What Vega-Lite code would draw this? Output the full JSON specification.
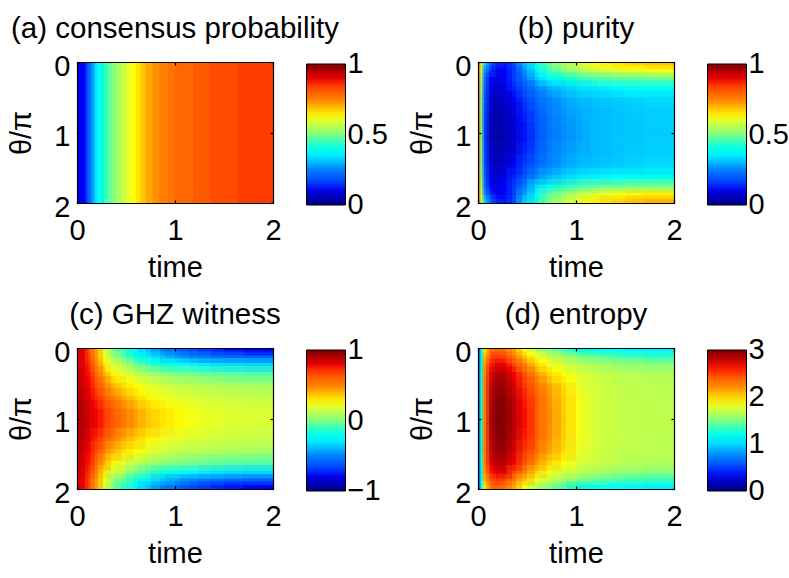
{"$schema":"https://vega.github.io/schema/vega-lite/v6.json","background":"white","padding":{"left":7,"top":13,"right":0,"bottom":0},
"datasets":{"frame":[{"t":0,"h":0}],
"tc":[{"t":0,"x0":0,"x1":0.013,"w0":0,"w1":0.027},{"t":0.02,"x0":0.013,"x1":0.04,"w0":0.027,"w1":0.06},{"t":0.05,"x0":0.04,"x1":0.083,"w0":0.06,"w1":0.117},{"t":0.1,"x0":0.083,"x1":0.14,"w0":0.117,"w1":0.18},{"t":0.16,"x0":0.14,"x1":0.213,"w0":0.18,"w1":0.267},{"t":0.24,"x0":0.213,"x1":0.293,"w0":0.267,"w1":0.347},{"t":0.32,"x0":0.293,"x1":0.387,"w0":0.347,"w1":0.453},{"t":0.42,"x0":0.387,"x1":0.5,"w0":0.453,"w1":0.58},{"t":0.54,"x0":0.5,"x1":0.62,"w0":0.58,"w1":0.7},{"t":0.66,"x0":0.62,"x1":0.753,"w0":0.7,"w1":0.847},{"t":0.8,"x0":0.753,"x1":0.9,"w0":0.847,"w1":1},{"t":0.95,"x0":0.9,"x1":1.05,"w0":1,"w1":1.15},{"t":1.1,"x0":1.05,"x1":1.233,"w0":1.15,"w1":1.367},{"t":1.3,"x0":1.233,"x1":1.5,"w0":1.367,"w1":1.7},{"t":1.6,"x0":1.5,"x1":2,"w0":1.7,"w1":2}],
"hc":[{"h":0,"y0":0,"y1":0.053,"z0":0,"z1":0.107},{"h":0.08,"y0":0.053,"y1":0.147,"z0":0.107,"z1":0.213},{"h":0.18,"y0":0.147,"y1":0.26,"z0":0.213,"z1":0.34},{"h":0.3,"y0":0.26,"y1":0.4,"z0":0.34,"z1":0.5},{"h":0.45,"y0":0.4,"y1":0.563,"z0":0.5,"z1":0.677},{"h":0.62,"y0":0.563,"y1":0.74,"z0":0.677,"z1":0.86},{"h":0.8,"y0":0.74,"y1":0.933,"z0":0.86,"z1":1.067},{"h":1,"y0":0.933,"y1":1.14,"z0":1.067,"z1":1.26},{"h":1.2,"y0":1.14,"y1":1.323,"z0":1.26,"z1":1.437},{"h":1.38,"y0":1.323,"y1":1.5,"z0":1.437,"z1":1.6},{"h":1.55,"y0":1.5,"y1":1.66,"z0":1.6,"z1":1.74},{"h":1.7,"y0":1.66,"y1":1.787,"z0":1.74,"z1":1.853},{"h":1.82,"y0":1.787,"y1":1.893,"z0":1.853,"z1":1.947},{"h":1.92,"y0":1.893,"y1":2,"z0":1.947,"z1":2}],
"a":[{"t":0,"t2":0.03,"h":0,"h2":2,"v":0.1},{"t":0.03,"t2":0.06,"h":0,"h2":2,"v":0.11},{"t":0.06,"t2":0.09,"h":0,"h2":2,"v":0.125},{"t":0.09,"t2":0.12,"h":0,"h2":2,"v":0.17},{"t":0.12,"t2":0.15,"h":0,"h2":2,"v":0.22},{"t":0.15,"t2":0.18,"h":0,"h2":2,"v":0.28},{"t":0.18,"t2":0.21,"h":0,"h2":2,"v":0.34},{"t":0.21,"t2":0.24,"h":0,"h2":2,"v":0.39},{"t":0.24,"t2":0.28,"h":0,"h2":2,"v":0.42},{"t":0.28,"t2":0.32,"h":0,"h2":2,"v":0.45},{"t":0.32,"t2":0.36,"h":0,"h2":2,"v":0.48},{"t":0.36,"t2":0.4,"h":0,"h2":2,"v":0.51},{"t":0.4,"t2":0.45,"h":0,"h2":2,"v":0.54},{"t":0.45,"t2":0.5,"h":0,"h2":2,"v":0.57},{"t":0.5,"t2":0.55,"h":0,"h2":2,"v":0.6},{"t":0.55,"t2":0.6,"h":0,"h2":2,"v":0.625},{"t":0.6,"t2":0.65,"h":0,"h2":2,"v":0.65},{"t":0.65,"t2":0.7,"h":0,"h2":2,"v":0.68},{"t":0.7,"t2":0.77,"h":0,"h2":2,"v":0.71},{"t":0.77,"t2":0.84,"h":0,"h2":2,"v":0.735},{"t":0.84,"t2":0.92,"h":0,"h2":2,"v":0.755},{"t":0.92,"t2":1,"h":0,"h2":2,"v":0.77},{"t":1,"t2":1.18,"h":0,"h2":2,"v":0.79},{"t":1.18,"t2":1.35,"h":0,"h2":2,"v":0.81},{"t":1.35,"t2":1.64,"h":0,"h2":2,"v":0.83},{"t":1.64,"t2":2,"h":0,"h2":2,"v":0.845}],
"b":[{"t":0,"h":0,"v":0.85},{"t":0.02,"h":0,"v":0.6},{"t":0.05,"h":0,"v":0.32},{"t":0.1,"h":0,"v":0.2},{"t":0.16,"h":0,"v":0.14},{"t":0.24,"h":0,"v":0.13},{"t":0.32,"h":0,"v":0.17},{"t":0.42,"h":0,"v":0.3},{"t":0.54,"h":0,"v":0.4},{"t":0.66,"h":0,"v":0.48},{"t":0.8,"h":0,"v":0.54},{"t":0.95,"h":0,"v":0.58},{"t":1.1,"h":0,"v":0.62},{"t":1.3,"h":0,"v":0.65},{"t":1.6,"h":0,"v":0.68},
{"t":0,"h":0.08,"v":0.85},{"t":0.02,"h":0.08,"v":0.58},{"t":0.05,"h":0.08,"v":0.26},{"t":0.1,"h":0.08,"v":0.15},{"t":0.16,"h":0.08,"v":0.11},{"t":0.24,"h":0.08,"v":0.12},{"t":0.32,"h":0.08,"v":0.16},{"t":0.42,"h":0.08,"v":0.26},{"t":0.54,"h":0.08,"v":0.36},{"t":0.66,"h":0.08,"v":0.45},{"t":0.8,"h":0.08,"v":0.5},{"t":0.95,"h":0.08,"v":0.54},{"t":1.1,"h":0.08,"v":0.57},{"t":1.3,"h":0.08,"v":0.6},{"t":1.6,"h":0.08,"v":0.62},
{"t":0,"h":0.18,"v":0.85},{"t":0.02,"h":0.18,"v":0.55},{"t":0.05,"h":0.18,"v":0.22},{"t":0.1,"h":0.18,"v":0.12},{"t":0.16,"h":0.18,"v":0.1},{"t":0.24,"h":0.18,"v":0.12},{"t":0.32,"h":0.18,"v":0.16},{"t":0.42,"h":0.18,"v":0.23},{"t":0.54,"h":0.18,"v":0.32},{"t":0.66,"h":0.18,"v":0.38},{"t":0.8,"h":0.18,"v":0.42},{"t":0.95,"h":0.18,"v":0.44},{"t":1.1,"h":0.18,"v":0.46},{"t":1.3,"h":0.18,"v":0.47},{"t":1.6,"h":0.18,"v":0.48},
{"t":0,"h":0.3,"v":0.85},{"t":0.02,"h":0.3,"v":0.52},{"t":0.05,"h":0.3,"v":0.2},{"t":0.1,"h":0.3,"v":0.1},{"t":0.16,"h":0.3,"v":0.08},{"t":0.24,"h":0.3,"v":0.1},{"t":0.32,"h":0.3,"v":0.14},{"t":0.42,"h":0.3,"v":0.19},{"t":0.54,"h":0.3,"v":0.25},{"t":0.66,"h":0.3,"v":0.29},{"t":0.8,"h":0.3,"v":0.32},{"t":0.95,"h":0.3,"v":0.34},{"t":1.1,"h":0.3,"v":0.35},{"t":1.3,"h":0.3,"v":0.37},{"t":1.6,"h":0.3,"v":0.39},
{"t":0,"h":0.45,"v":0.85},{"t":0.02,"h":0.45,"v":0.5},{"t":0.05,"h":0.45,"v":0.18},{"t":0.1,"h":0.45,"v":0.08},{"t":0.16,"h":0.45,"v":0.06},{"t":0.24,"h":0.45,"v":0.08},{"t":0.32,"h":0.45,"v":0.11},{"t":0.42,"h":0.45,"v":0.16},{"t":0.54,"h":0.45,"v":0.21},{"t":0.66,"h":0.45,"v":0.25},{"t":0.8,"h":0.45,"v":0.28},{"t":0.95,"h":0.45,"v":0.3},{"t":1.1,"h":0.45,"v":0.31},{"t":1.3,"h":0.45,"v":0.32},{"t":1.6,"h":0.45,"v":0.335},
{"t":0,"h":0.62,"v":0.85},{"t":0.02,"h":0.62,"v":0.5},{"t":0.05,"h":0.62,"v":0.17},{"t":0.1,"h":0.62,"v":0.07},{"t":0.16,"h":0.62,"v":0.05},{"t":0.24,"h":0.62,"v":0.06},{"t":0.32,"h":0.62,"v":0.09},{"t":0.42,"h":0.62,"v":0.14},{"t":0.54,"h":0.62,"v":0.19},{"t":0.66,"h":0.62,"v":0.24},{"t":0.8,"h":0.62,"v":0.27},{"t":0.95,"h":0.62,"v":0.29},{"t":1.1,"h":0.62,"v":0.3},{"t":1.3,"h":0.62,"v":0.31},{"t":1.6,"h":0.62,"v":0.325},
{"t":0,"h":0.8,"v":0.85},{"t":0.02,"h":0.8,"v":0.5},{"t":0.05,"h":0.8,"v":0.16},{"t":0.1,"h":0.8,"v":0.06},{"t":0.16,"h":0.8,"v":0.04},{"t":0.24,"h":0.8,"v":0.05},{"t":0.32,"h":0.8,"v":0.08},{"t":0.42,"h":0.8,"v":0.13},{"t":0.54,"h":0.8,"v":0.18},{"t":0.66,"h":0.8,"v":0.23},{"t":0.8,"h":0.8,"v":0.26},{"t":0.95,"h":0.8,"v":0.28},{"t":1.1,"h":0.8,"v":0.3},{"t":1.3,"h":0.8,"v":0.31},{"t":1.6,"h":0.8,"v":0.32},
{"t":0,"h":1,"v":0.85},{"t":0.02,"h":1,"v":0.5},{"t":0.05,"h":1,"v":0.16},{"t":0.1,"h":1,"v":0.06},{"t":0.16,"h":1,"v":0.04},{"t":0.24,"h":1,"v":0.05},{"t":0.32,"h":1,"v":0.08},{"t":0.42,"h":1,"v":0.13},{"t":0.54,"h":1,"v":0.18},{"t":0.66,"h":1,"v":0.23},{"t":0.8,"h":1,"v":0.26},{"t":0.95,"h":1,"v":0.28},{"t":1.1,"h":1,"v":0.3},{"t":1.3,"h":1,"v":0.31},{"t":1.6,"h":1,"v":0.32},
{"t":0,"h":1.2,"v":0.85},{"t":0.02,"h":1.2,"v":0.5},{"t":0.05,"h":1.2,"v":0.17},{"t":0.1,"h":1.2,"v":0.07},{"t":0.16,"h":1.2,"v":0.05},{"t":0.24,"h":1.2,"v":0.06},{"t":0.32,"h":1.2,"v":0.09},{"t":0.42,"h":1.2,"v":0.14},{"t":0.54,"h":1.2,"v":0.19},{"t":0.66,"h":1.2,"v":0.24},{"t":0.8,"h":1.2,"v":0.27},{"t":0.95,"h":1.2,"v":0.29},{"t":1.1,"h":1.2,"v":0.3},{"t":1.3,"h":1.2,"v":0.31},{"t":1.6,"h":1.2,"v":0.325},
{"t":0,"h":1.38,"v":0.85},{"t":0.02,"h":1.38,"v":0.5},{"t":0.05,"h":1.38,"v":0.18},{"t":0.1,"h":1.38,"v":0.08},{"t":0.16,"h":1.38,"v":0.06},{"t":0.24,"h":1.38,"v":0.08},{"t":0.32,"h":1.38,"v":0.11},{"t":0.42,"h":1.38,"v":0.16},{"t":0.54,"h":1.38,"v":0.21},{"t":0.66,"h":1.38,"v":0.25},{"t":0.8,"h":1.38,"v":0.28},{"t":0.95,"h":1.38,"v":0.3},{"t":1.1,"h":1.38,"v":0.31},{"t":1.3,"h":1.38,"v":0.32},{"t":1.6,"h":1.38,"v":0.335},
{"t":0,"h":1.55,"v":0.85},{"t":0.02,"h":1.55,"v":0.52},{"t":0.05,"h":1.55,"v":0.2},{"t":0.1,"h":1.55,"v":0.1},{"t":0.16,"h":1.55,"v":0.08},{"t":0.24,"h":1.55,"v":0.1},{"t":0.32,"h":1.55,"v":0.14},{"t":0.42,"h":1.55,"v":0.19},{"t":0.54,"h":1.55,"v":0.26},{"t":0.66,"h":1.55,"v":0.3},{"t":0.8,"h":1.55,"v":0.33},{"t":0.95,"h":1.55,"v":0.35},{"t":1.1,"h":1.55,"v":0.36},{"t":1.3,"h":1.55,"v":0.38},{"t":1.6,"h":1.55,"v":0.4},
{"t":0,"h":1.7,"v":0.85},{"t":0.02,"h":1.7,"v":0.55},{"t":0.05,"h":1.7,"v":0.22},{"t":0.1,"h":1.7,"v":0.12},{"t":0.16,"h":1.7,"v":0.1},{"t":0.24,"h":1.7,"v":0.12},{"t":0.32,"h":1.7,"v":0.16},{"t":0.42,"h":1.7,"v":0.24},{"t":0.54,"h":1.7,"v":0.34},{"t":0.66,"h":1.7,"v":0.4},{"t":0.8,"h":1.7,"v":0.44},{"t":0.95,"h":1.7,"v":0.46},{"t":1.1,"h":1.7,"v":0.48},{"t":1.3,"h":1.7,"v":0.49},{"t":1.6,"h":1.7,"v":0.5},
{"t":0,"h":1.82,"v":0.85},{"t":0.02,"h":1.82,"v":0.58},{"t":0.05,"h":1.82,"v":0.26},{"t":0.1,"h":1.82,"v":0.15},{"t":0.16,"h":1.82,"v":0.11},{"t":0.24,"h":1.82,"v":0.12},{"t":0.32,"h":1.82,"v":0.16},{"t":0.42,"h":1.82,"v":0.28},{"t":0.54,"h":1.82,"v":0.38},{"t":0.66,"h":1.82,"v":0.47},{"t":0.8,"h":1.82,"v":0.52},{"t":0.95,"h":1.82,"v":0.56},{"t":1.1,"h":1.82,"v":0.59},{"t":1.3,"h":1.82,"v":0.62},{"t":1.6,"h":1.82,"v":0.64},
{"t":0,"h":1.92,"v":0.85},{"t":0.02,"h":1.92,"v":0.6},{"t":0.05,"h":1.92,"v":0.32},{"t":0.1,"h":1.92,"v":0.2},{"t":0.16,"h":1.92,"v":0.14},{"t":0.24,"h":1.92,"v":0.13},{"t":0.32,"h":1.92,"v":0.17},{"t":0.42,"h":1.92,"v":0.32},{"t":0.54,"h":1.92,"v":0.42},{"t":0.66,"h":1.92,"v":0.5},{"t":0.8,"h":1.92,"v":0.56},{"t":0.95,"h":1.92,"v":0.6},{"t":1.1,"h":1.92,"v":0.64},{"t":1.3,"h":1.92,"v":0.67},{"t":1.6,"h":1.92,"v":0.7}],
"c":[{"t":0,"h":0,"v":0.82},{"t":0.02,"h":0,"v":0.82},{"t":0.05,"h":0,"v":0.78},{"t":0.1,"h":0,"v":0.65},{"t":0.16,"h":0,"v":0.45},{"t":0.24,"h":0,"v":0.2},{"t":0.32,"h":0,"v":0},{"t":0.42,"h":0,"v":-0.12},{"t":0.54,"h":0,"v":-0.27},{"t":0.66,"h":0,"v":-0.38},{"t":0.8,"h":0,"v":-0.5},{"t":0.95,"h":0,"v":-0.58},{"t":1.1,"h":0,"v":-0.65},{"t":1.3,"h":0,"v":-0.72},{"t":1.6,"h":0,"v":-0.76},
{"t":0,"h":0.08,"v":0.82},{"t":0.02,"h":0.08,"v":0.82},{"t":0.05,"h":0.08,"v":0.78},{"t":0.1,"h":0.08,"v":0.66},{"t":0.16,"h":0.08,"v":0.46},{"t":0.24,"h":0.08,"v":0.24},{"t":0.32,"h":0.08,"v":0.05},{"t":0.42,"h":0.08,"v":-0.05},{"t":0.54,"h":0.08,"v":-0.18},{"t":0.66,"h":0.08,"v":-0.28},{"t":0.8,"h":0.08,"v":-0.38},{"t":0.95,"h":0.08,"v":-0.45},{"t":1.1,"h":0.08,"v":-0.5},{"t":1.3,"h":0.08,"v":-0.56},{"t":1.6,"h":0.08,"v":-0.6},
{"t":0,"h":0.18,"v":0.84},{"t":0.02,"h":0.18,"v":0.84},{"t":0.05,"h":0.18,"v":0.8},{"t":0.1,"h":0.18,"v":0.7},{"t":0.16,"h":0.18,"v":0.5},{"t":0.24,"h":0.18,"v":0.3},{"t":0.32,"h":0.18,"v":0.18},{"t":0.42,"h":0.18,"v":0.1},{"t":0.54,"h":0.18,"v":-0.03},{"t":0.66,"h":0.18,"v":-0.1},{"t":0.8,"h":0.18,"v":-0.17},{"t":0.95,"h":0.18,"v":-0.23},{"t":1.1,"h":0.18,"v":-0.27},{"t":1.3,"h":0.18,"v":-0.32},{"t":1.6,"h":0.18,"v":-0.34},
{"t":0,"h":0.3,"v":0.86},{"t":0.02,"h":0.3,"v":0.85},{"t":0.05,"h":0.3,"v":0.82},{"t":0.1,"h":0.3,"v":0.74},{"t":0.16,"h":0.3,"v":0.58},{"t":0.24,"h":0.3,"v":0.42},{"t":0.32,"h":0.3,"v":0.27},{"t":0.42,"h":0.3,"v":0.2},{"t":0.54,"h":0.3,"v":0.13},{"t":0.66,"h":0.3,"v":0.08},{"t":0.8,"h":0.3,"v":0.03},{"t":0.95,"h":0.3,"v":0},{"t":1.1,"h":0.3,"v":-0.02},{"t":1.3,"h":0.3,"v":-0.05},{"t":1.6,"h":0.3,"v":-0.07},
{"t":0,"h":0.45,"v":0.88},{"t":0.02,"h":0.45,"v":0.87},{"t":0.05,"h":0.45,"v":0.84},{"t":0.1,"h":0.45,"v":0.76},{"t":0.16,"h":0.45,"v":0.65},{"t":0.24,"h":0.45,"v":0.52},{"t":0.32,"h":0.45,"v":0.4},{"t":0.42,"h":0.45,"v":0.31},{"t":0.54,"h":0.45,"v":0.25},{"t":0.66,"h":0.45,"v":0.2},{"t":0.8,"h":0.45,"v":0.16},{"t":0.95,"h":0.45,"v":0.13},{"t":1.1,"h":0.45,"v":0.12},{"t":1.3,"h":0.45,"v":0.1},{"t":1.6,"h":0.45,"v":0.08},
{"t":0,"h":0.62,"v":0.9},{"t":0.02,"h":0.62,"v":0.89},{"t":0.05,"h":0.62,"v":0.86},{"t":0.1,"h":0.62,"v":0.8},{"t":0.16,"h":0.62,"v":0.72},{"t":0.24,"h":0.62,"v":0.62},{"t":0.32,"h":0.62,"v":0.52},{"t":0.42,"h":0.62,"v":0.42},{"t":0.54,"h":0.62,"v":0.34},{"t":0.66,"h":0.62,"v":0.27},{"t":0.8,"h":0.62,"v":0.22},{"t":0.95,"h":0.62,"v":0.2},{"t":1.1,"h":0.62,"v":0.18},{"t":1.3,"h":0.62,"v":0.16},{"t":1.6,"h":0.62,"v":0.14},
{"t":0,"h":0.8,"v":0.92},{"t":0.02,"h":0.8,"v":0.91},{"t":0.05,"h":0.8,"v":0.88},{"t":0.1,"h":0.8,"v":0.84},{"t":0.16,"h":0.8,"v":0.77},{"t":0.24,"h":0.8,"v":0.7},{"t":0.32,"h":0.8,"v":0.62},{"t":0.42,"h":0.8,"v":0.53},{"t":0.54,"h":0.8,"v":0.44},{"t":0.66,"h":0.8,"v":0.36},{"t":0.8,"h":0.8,"v":0.3},{"t":0.95,"h":0.8,"v":0.26},{"t":1.1,"h":0.8,"v":0.23},{"t":1.3,"h":0.8,"v":0.2},{"t":1.6,"h":0.8,"v":0.18},
{"t":0,"h":1,"v":0.92},{"t":0.02,"h":1,"v":0.91},{"t":0.05,"h":1,"v":0.88},{"t":0.1,"h":1,"v":0.84},{"t":0.16,"h":1,"v":0.77},{"t":0.24,"h":1,"v":0.7},{"t":0.32,"h":1,"v":0.62},{"t":0.42,"h":1,"v":0.53},{"t":0.54,"h":1,"v":0.44},{"t":0.66,"h":1,"v":0.36},{"t":0.8,"h":1,"v":0.3},{"t":0.95,"h":1,"v":0.26},{"t":1.1,"h":1,"v":0.23},{"t":1.3,"h":1,"v":0.2},{"t":1.6,"h":1,"v":0.18},
{"t":0,"h":1.2,"v":0.9},{"t":0.02,"h":1.2,"v":0.89},{"t":0.05,"h":1.2,"v":0.86},{"t":0.1,"h":1.2,"v":0.8},{"t":0.16,"h":1.2,"v":0.72},{"t":0.24,"h":1.2,"v":0.62},{"t":0.32,"h":1.2,"v":0.52},{"t":0.42,"h":1.2,"v":0.42},{"t":0.54,"h":1.2,"v":0.34},{"t":0.66,"h":1.2,"v":0.27},{"t":0.8,"h":1.2,"v":0.22},{"t":0.95,"h":1.2,"v":0.2},{"t":1.1,"h":1.2,"v":0.18},{"t":1.3,"h":1.2,"v":0.16},{"t":1.6,"h":1.2,"v":0.14},
{"t":0,"h":1.38,"v":0.88},{"t":0.02,"h":1.38,"v":0.87},{"t":0.05,"h":1.38,"v":0.84},{"t":0.1,"h":1.38,"v":0.76},{"t":0.16,"h":1.38,"v":0.65},{"t":0.24,"h":1.38,"v":0.52},{"t":0.32,"h":1.38,"v":0.4},{"t":0.42,"h":1.38,"v":0.31},{"t":0.54,"h":1.38,"v":0.25},{"t":0.66,"h":1.38,"v":0.2},{"t":0.8,"h":1.38,"v":0.16},{"t":0.95,"h":1.38,"v":0.13},{"t":1.1,"h":1.38,"v":0.12},{"t":1.3,"h":1.38,"v":0.1},{"t":1.6,"h":1.38,"v":0.08},
{"t":0,"h":1.55,"v":0.86},{"t":0.02,"h":1.55,"v":0.85},{"t":0.05,"h":1.55,"v":0.82},{"t":0.1,"h":1.55,"v":0.74},{"t":0.16,"h":1.55,"v":0.58},{"t":0.24,"h":1.55,"v":0.42},{"t":0.32,"h":1.55,"v":0.27},{"t":0.42,"h":1.55,"v":0.2},{"t":0.54,"h":1.55,"v":0.13},{"t":0.66,"h":1.55,"v":0.08},{"t":0.8,"h":1.55,"v":0.03},{"t":0.95,"h":1.55,"v":0},{"t":1.1,"h":1.55,"v":-0.02},{"t":1.3,"h":1.55,"v":-0.05},{"t":1.6,"h":1.55,"v":-0.07},
{"t":0,"h":1.7,"v":0.84},{"t":0.02,"h":1.7,"v":0.84},{"t":0.05,"h":1.7,"v":0.8},{"t":0.1,"h":1.7,"v":0.7},{"t":0.16,"h":1.7,"v":0.5},{"t":0.24,"h":1.7,"v":0.3},{"t":0.32,"h":1.7,"v":0.18},{"t":0.42,"h":1.7,"v":0.1},{"t":0.54,"h":1.7,"v":-0.03},{"t":0.66,"h":1.7,"v":-0.1},{"t":0.8,"h":1.7,"v":-0.17},{"t":0.95,"h":1.7,"v":-0.23},{"t":1.1,"h":1.7,"v":-0.27},{"t":1.3,"h":1.7,"v":-0.32},{"t":1.6,"h":1.7,"v":-0.34},
{"t":0,"h":1.82,"v":0.82},{"t":0.02,"h":1.82,"v":0.82},{"t":0.05,"h":1.82,"v":0.78},{"t":0.1,"h":1.82,"v":0.66},{"t":0.16,"h":1.82,"v":0.46},{"t":0.24,"h":1.82,"v":0.24},{"t":0.32,"h":1.82,"v":0.05},{"t":0.42,"h":1.82,"v":-0.05},{"t":0.54,"h":1.82,"v":-0.18},{"t":0.66,"h":1.82,"v":-0.28},{"t":0.8,"h":1.82,"v":-0.38},{"t":0.95,"h":1.82,"v":-0.45},{"t":1.1,"h":1.82,"v":-0.5},{"t":1.3,"h":1.82,"v":-0.56},{"t":1.6,"h":1.82,"v":-0.6},
{"t":0,"h":1.92,"v":0.82},{"t":0.02,"h":1.92,"v":0.82},{"t":0.05,"h":1.92,"v":0.78},{"t":0.1,"h":1.92,"v":0.65},{"t":0.16,"h":1.92,"v":0.45},{"t":0.24,"h":1.92,"v":0.2},{"t":0.32,"h":1.92,"v":0},{"t":0.42,"h":1.92,"v":-0.12},{"t":0.54,"h":1.92,"v":-0.27},{"t":0.66,"h":1.92,"v":-0.38},{"t":0.8,"h":1.92,"v":-0.5},{"t":0.95,"h":1.92,"v":-0.58},{"t":1.1,"h":1.92,"v":-0.65},{"t":1.3,"h":1.92,"v":-0.72},{"t":1.6,"h":1.92,"v":-0.76}],
"d":[{"t":0,"h":0,"v":0.4},{"t":0.02,"h":0,"v":1.15},{"t":0.05,"h":0,"v":1.95},{"t":0.1,"h":0,"v":2.3},{"t":0.16,"h":0,"v":2.4},{"t":0.24,"h":0,"v":2.35},{"t":0.32,"h":0,"v":2.15},{"t":0.42,"h":0,"v":1.85},{"t":0.54,"h":0,"v":1.65},{"t":0.66,"h":0,"v":1.5},{"t":0.8,"h":0,"v":1.38},{"t":0.95,"h":0,"v":1.28},{"t":1.1,"h":0,"v":1.2},{"t":1.3,"h":0,"v":1.14},{"t":1.6,"h":0,"v":1.08},
{"t":0,"h":0.08,"v":0.4},{"t":0.02,"h":0.08,"v":1.2},{"t":0.05,"h":0.08,"v":2.1},{"t":0.1,"h":0.08,"v":2.45},{"t":0.16,"h":0.08,"v":2.55},{"t":0.24,"h":0.08,"v":2.5},{"t":0.32,"h":0.08,"v":2.3},{"t":0.42,"h":0.08,"v":2.05},{"t":0.54,"h":0.08,"v":1.85},{"t":0.66,"h":0.08,"v":1.72},{"t":0.8,"h":0.08,"v":1.6},{"t":0.95,"h":0.08,"v":1.5},{"t":1.1,"h":0.08,"v":1.45},{"t":1.3,"h":0.08,"v":1.38},{"t":1.6,"h":0.08,"v":1.33},
{"t":0,"h":0.18,"v":0.4},{"t":0.02,"h":0.18,"v":1.25},{"t":0.05,"h":0.18,"v":2.2},{"t":0.1,"h":0.18,"v":2.6},{"t":0.16,"h":0.18,"v":2.72},{"t":0.24,"h":0.18,"v":2.68},{"t":0.32,"h":0.18,"v":2.5},{"t":0.42,"h":0.18,"v":2.25},{"t":0.54,"h":0.18,"v":2},{"t":0.66,"h":0.18,"v":1.85},{"t":0.8,"h":0.18,"v":1.75},{"t":0.95,"h":0.18,"v":1.68},{"t":1.1,"h":0.18,"v":1.62},{"t":1.3,"h":0.18,"v":1.57},{"t":1.6,"h":0.18,"v":1.53},
{"t":0,"h":0.3,"v":0.4},{"t":0.02,"h":0.3,"v":1.3},{"t":0.05,"h":0.3,"v":2.25},{"t":0.1,"h":0.3,"v":2.7},{"t":0.16,"h":0.3,"v":2.85},{"t":0.24,"h":0.3,"v":2.82},{"t":0.32,"h":0.3,"v":2.65},{"t":0.42,"h":0.3,"v":2.45},{"t":0.54,"h":0.3,"v":2.2},{"t":0.66,"h":0.3,"v":2},{"t":0.8,"h":0.3,"v":1.87},{"t":0.95,"h":0.3,"v":1.78},{"t":1.1,"h":0.3,"v":1.73},{"t":1.3,"h":0.3,"v":1.68},{"t":1.6,"h":0.3,"v":1.65},
{"t":0,"h":0.45,"v":0.4},{"t":0.02,"h":0.45,"v":1.3},{"t":0.05,"h":0.45,"v":2.3},{"t":0.1,"h":0.45,"v":2.78},{"t":0.16,"h":0.45,"v":2.93},{"t":0.24,"h":0.45,"v":2.9},{"t":0.32,"h":0.45,"v":2.75},{"t":0.42,"h":0.45,"v":2.55},{"t":0.54,"h":0.45,"v":2.35},{"t":0.66,"h":0.45,"v":2.15},{"t":0.8,"h":0.45,"v":1.98},{"t":0.95,"h":0.45,"v":1.82},{"t":1.1,"h":0.45,"v":1.75},{"t":1.3,"h":0.45,"v":1.7},{"t":1.6,"h":0.45,"v":1.68},
{"t":0,"h":0.62,"v":0.4},{"t":0.02,"h":0.62,"v":1.3},{"t":0.05,"h":0.62,"v":2.3},{"t":0.1,"h":0.62,"v":2.82},{"t":0.16,"h":0.62,"v":2.98},{"t":0.24,"h":0.62,"v":2.95},{"t":0.32,"h":0.62,"v":2.8},{"t":0.42,"h":0.62,"v":2.6},{"t":0.54,"h":0.62,"v":2.4},{"t":0.66,"h":0.62,"v":2.2},{"t":0.8,"h":0.62,"v":2.02},{"t":0.95,"h":0.62,"v":1.85},{"t":1.1,"h":0.62,"v":1.76},{"t":1.3,"h":0.62,"v":1.71},{"t":1.6,"h":0.62,"v":1.68},
{"t":0,"h":0.8,"v":0.4},{"t":0.02,"h":0.8,"v":1.3},{"t":0.05,"h":0.8,"v":2.3},{"t":0.1,"h":0.8,"v":2.85},{"t":0.16,"h":0.8,"v":3},{"t":0.24,"h":0.8,"v":2.97},{"t":0.32,"h":0.8,"v":2.83},{"t":0.42,"h":0.8,"v":2.62},{"t":0.54,"h":0.8,"v":2.42},{"t":0.66,"h":0.8,"v":2.22},{"t":0.8,"h":0.8,"v":2.03},{"t":0.95,"h":0.8,"v":1.86},{"t":1.1,"h":0.8,"v":1.76},{"t":1.3,"h":0.8,"v":1.71},{"t":1.6,"h":0.8,"v":1.69},
{"t":0,"h":1,"v":0.4},{"t":0.02,"h":1,"v":1.3},{"t":0.05,"h":1,"v":2.3},{"t":0.1,"h":1,"v":2.85},{"t":0.16,"h":1,"v":3},{"t":0.24,"h":1,"v":2.97},{"t":0.32,"h":1,"v":2.83},{"t":0.42,"h":1,"v":2.62},{"t":0.54,"h":1,"v":2.42},{"t":0.66,"h":1,"v":2.22},{"t":0.8,"h":1,"v":2.03},{"t":0.95,"h":1,"v":1.86},{"t":1.1,"h":1,"v":1.76},{"t":1.3,"h":1,"v":1.71},{"t":1.6,"h":1,"v":1.69},
{"t":0,"h":1.2,"v":0.4},{"t":0.02,"h":1.2,"v":1.3},{"t":0.05,"h":1.2,"v":2.3},{"t":0.1,"h":1.2,"v":2.82},{"t":0.16,"h":1.2,"v":2.98},{"t":0.24,"h":1.2,"v":2.95},{"t":0.32,"h":1.2,"v":2.8},{"t":0.42,"h":1.2,"v":2.6},{"t":0.54,"h":1.2,"v":2.4},{"t":0.66,"h":1.2,"v":2.2},{"t":0.8,"h":1.2,"v":2.02},{"t":0.95,"h":1.2,"v":1.85},{"t":1.1,"h":1.2,"v":1.76},{"t":1.3,"h":1.2,"v":1.71},{"t":1.6,"h":1.2,"v":1.68},
{"t":0,"h":1.38,"v":0.4},{"t":0.02,"h":1.38,"v":1.3},{"t":0.05,"h":1.38,"v":2.3},{"t":0.1,"h":1.38,"v":2.78},{"t":0.16,"h":1.38,"v":2.93},{"t":0.24,"h":1.38,"v":2.9},{"t":0.32,"h":1.38,"v":2.75},{"t":0.42,"h":1.38,"v":2.55},{"t":0.54,"h":1.38,"v":2.35},{"t":0.66,"h":1.38,"v":2.15},{"t":0.8,"h":1.38,"v":1.98},{"t":0.95,"h":1.38,"v":1.82},{"t":1.1,"h":1.38,"v":1.75},{"t":1.3,"h":1.38,"v":1.7},{"t":1.6,"h":1.38,"v":1.68},
{"t":0,"h":1.55,"v":0.4},{"t":0.02,"h":1.55,"v":1.3},{"t":0.05,"h":1.55,"v":2.25},{"t":0.1,"h":1.55,"v":2.7},{"t":0.16,"h":1.55,"v":2.85},{"t":0.24,"h":1.55,"v":2.82},{"t":0.32,"h":1.55,"v":2.65},{"t":0.42,"h":1.55,"v":2.45},{"t":0.54,"h":1.55,"v":2.2},{"t":0.66,"h":1.55,"v":2},{"t":0.8,"h":1.55,"v":1.87},{"t":0.95,"h":1.55,"v":1.78},{"t":1.1,"h":1.55,"v":1.73},{"t":1.3,"h":1.55,"v":1.68},{"t":1.6,"h":1.55,"v":1.65},
{"t":0,"h":1.7,"v":0.4},{"t":0.02,"h":1.7,"v":1.25},{"t":0.05,"h":1.7,"v":2.2},{"t":0.1,"h":1.7,"v":2.6},{"t":0.16,"h":1.7,"v":2.72},{"t":0.24,"h":1.7,"v":2.68},{"t":0.32,"h":1.7,"v":2.5},{"t":0.42,"h":1.7,"v":2.25},{"t":0.54,"h":1.7,"v":2},{"t":0.66,"h":1.7,"v":1.85},{"t":0.8,"h":1.7,"v":1.75},{"t":0.95,"h":1.7,"v":1.68},{"t":1.1,"h":1.7,"v":1.62},{"t":1.3,"h":1.7,"v":1.57},{"t":1.6,"h":1.7,"v":1.53},
{"t":0,"h":1.82,"v":0.4},{"t":0.02,"h":1.82,"v":1.2},{"t":0.05,"h":1.82,"v":2.1},{"t":0.1,"h":1.82,"v":2.45},{"t":0.16,"h":1.82,"v":2.55},{"t":0.24,"h":1.82,"v":2.5},{"t":0.32,"h":1.82,"v":2.3},{"t":0.42,"h":1.82,"v":2.05},{"t":0.54,"h":1.82,"v":1.85},{"t":0.66,"h":1.82,"v":1.72},{"t":0.8,"h":1.82,"v":1.6},{"t":0.95,"h":1.82,"v":1.5},{"t":1.1,"h":1.82,"v":1.45},{"t":1.3,"h":1.82,"v":1.38},{"t":1.6,"h":1.82,"v":1.33},
{"t":0,"h":1.92,"v":0.4},{"t":0.02,"h":1.92,"v":1.15},{"t":0.05,"h":1.92,"v":1.95},{"t":0.1,"h":1.92,"v":2.3},{"t":0.16,"h":1.92,"v":2.4},{"t":0.24,"h":1.92,"v":2.35},{"t":0.32,"h":1.92,"v":2.15},{"t":0.42,"h":1.92,"v":1.85},{"t":0.54,"h":1.92,"v":1.65},{"t":0.66,"h":1.92,"v":1.5},{"t":0.8,"h":1.92,"v":1.38},{"t":0.95,"h":1.92,"v":1.28},{"t":1.1,"h":1.92,"v":1.2},{"t":1.3,"h":1.92,"v":1.14},{"t":1.6,"h":1.92,"v":1.08}]},
"config":{"font":"Liberation Sans","view":{"stroke":null},
"axis":{"grid":false,"domain":true,"domainColor":"#000","domainWidth":1.2,"tickColor":"#000","tickSize":-3,"tickWidth":1.2,"labelFontSize":29,"titleFontSize":29,"titleFontWeight":"normal","labelColor":"#000","titleColor":"#000","labelFlush":false,"format":"d"},
"axisX":{"labelPadding":16,"titlePadding":8,"labelAngle":0},"axisY":{"labelPadding":10,"titlePadding":17,"labelOffset":4},
"legend":{"gradientLength":141,"gradientThickness":39,"gradientStrokeColor":"#000","gradientStrokeWidth":1,"labelFontSize":29,"labelColor":"#000","orient":"none","legendX":229.5,"legendY":2,"title":null,"labelOverlap":false,"labelOffset":6},
"title":{"fontSize":29.5,"fontWeight":"normal","color":"#000","offset":8}},
"columns":2,"bounds":"flush","spacing":{"row":145,"column":205},
"resolve":{"scale":{"color":"independent"},"legend":{"color":"independent"}},
"concat":[
{"width":196,"height":141,"title":"(a) consensus probability","resolve":{"axis":{"x":"independent","y":"independent"}},"layer":[{"data":{"name":"a"},"mark":{"type":"rect","clip":true},"encoding":{"x":{"field":"t","type":"quantitative","title":"time","scale":{"domain":[0,2],"nice":false},"axis":{"values":[0,1,2],"zindex":1}},"x2":{"field":"t2"},"y":{"field":"h","type":"quantitative","title":"θ/π","scale":{"domain":[2,0],"nice":false},"axis":{"values":[0,1,2],"zindex":1}},"y2":{"field":"h2"},"color":{"field":"v","type":"quantitative","scale":{"domain":[0,1],"range":["#000084","#0000ff","#0080ff","#00ffff","#80ff80","#ffff00","#ff8000","#ff0000","#800000"]},"legend":{"values":[0.0001,0.5,0.9999],"format":".1~f"}}}},{"data":{"name":"a"},"mark":{"type":"rect","clip":true},"encoding":{"x":{"field":"t","type":"quantitative","scale":{"domain":[0,2],"nice":false},"axis":null},"x2":{"field":"t2"},"y":{"field":"h","type":"quantitative","scale":{"domain":[2,0],"nice":false},"axis":null},"y2":{"field":"h2"},"color":{"field":"v","type":"quantitative","scale":{"domain":[0,1],"range":["#000084","#0000ff","#0080ff","#00ffff","#80ff80","#ffff00","#ff8000","#ff0000","#800000"]},"legend":null}}},{"data":{"name":"frame"},"mark":{"type":"point","opacity":0},"encoding":{"x":{"field":"t","type":"quantitative","scale":{"domain":[0,2],"nice":false},"axis":{"orient":"top","values":[0,1,2],"labels":false,"title":null,"zindex":1}},"y":{"field":"h","type":"quantitative","scale":{"domain":[2,0],"nice":false},"axis":{"orient":"right","values":[0,1,2],"labels":false,"title":null,"zindex":1}}}}]},
{"width":196,"height":141,"title":"(b) purity","resolve":{"axis":{"x":"independent","y":"independent"}},"layer":[{"data":{"name":"b"},"transform":[{"lookup":"t","from":{"data":{"name":"tc"},"key":"t","fields":["x0","x1"]}},{"lookup":"h","from":{"data":{"name":"hc"},"key":"h","fields":["y0","y1"]}}],"mark":{"type":"rect","clip":true},"encoding":{"x":{"field":"x0","type":"quantitative","title":"time","scale":{"domain":[0,2],"nice":false},"axis":{"values":[0,1,2],"zindex":1}},"x2":{"field":"x1"},"y":{"field":"y0","type":"quantitative","title":"θ/π","scale":{"domain":[2,0],"nice":false},"axis":{"values":[0,1,2],"zindex":1}},"y2":{"field":"y1"},"color":{"field":"v","type":"quantitative","scale":{"domain":[0,1],"range":["#000084","#0000ff","#0080ff","#00ffff","#80ff80","#ffff00","#ff8000","#ff0000","#800000"]},"legend":{"values":[0.0001,0.5,0.9999],"format":".1~f"}}}},{"data":{"name":"b"},"transform":[{"lookup":"t","from":{"data":{"name":"tc"},"key":"t","fields":["x0","x1"]}},{"lookup":"h","from":{"data":{"name":"hc"},"key":"h","fields":["y0","y1"]}}],"mark":{"type":"rect","clip":true},"encoding":{"x":{"field":"x0","type":"quantitative","scale":{"domain":[0,2],"nice":false},"axis":null},"x2":{"field":"x1"},"y":{"field":"y0","type":"quantitative","scale":{"domain":[2,0],"nice":false},"axis":null},"y2":{"field":"y1"},"color":{"field":"v","type":"quantitative","scale":{"domain":[0,1],"range":["#000084","#0000ff","#0080ff","#00ffff","#80ff80","#ffff00","#ff8000","#ff0000","#800000"]},"legend":null}}},{"data":{"name":"b"},"transform":[{"lookup":"t","from":{"data":{"name":"tc"},"key":"t","fields":["w0","w1"]}},{"lookup":"h","from":{"data":{"name":"hc"},"key":"h","fields":["z0","z1"]}}],"mark":{"type":"rect","clip":true,"opacity":0.5},"encoding":{"x":{"field":"w0","type":"quantitative","scale":{"domain":[0,2],"nice":false},"axis":null},"x2":{"field":"w1"},"y":{"field":"z0","type":"quantitative","scale":{"domain":[2,0],"nice":false},"axis":null},"y2":{"field":"z1"},"color":{"field":"v","type":"quantitative","scale":{"domain":[0,1],"range":["#000084","#0000ff","#0080ff","#00ffff","#80ff80","#ffff00","#ff8000","#ff0000","#800000"]},"legend":null}}},{"data":{"name":"frame"},"mark":{"type":"point","opacity":0},"encoding":{"x":{"field":"t","type":"quantitative","scale":{"domain":[0,2],"nice":false},"axis":{"orient":"top","values":[0,1,2],"labels":false,"title":null,"zindex":1}},"y":{"field":"h","type":"quantitative","scale":{"domain":[2,0],"nice":false},"axis":{"orient":"right","values":[0,1,2],"labels":false,"title":null,"zindex":1}}}}]},
{"width":196,"height":141,"title":"(c) GHZ witness","resolve":{"axis":{"x":"independent","y":"independent"}},"layer":[{"data":{"name":"c"},"transform":[{"lookup":"t","from":{"data":{"name":"tc"},"key":"t","fields":["x0","x1"]}},{"lookup":"h","from":{"data":{"name":"hc"},"key":"h","fields":["y0","y1"]}}],"mark":{"type":"rect","clip":true},"encoding":{"x":{"field":"x0","type":"quantitative","title":"time","scale":{"domain":[0,2],"nice":false},"axis":{"values":[0,1,2],"zindex":1}},"x2":{"field":"x1"},"y":{"field":"y0","type":"quantitative","title":"θ/π","scale":{"domain":[2,0],"nice":false},"axis":{"values":[0,1,2],"zindex":1}},"y2":{"field":"y1"},"color":{"field":"v","type":"quantitative","scale":{"domain":[-1,1],"range":["#000084","#0000ff","#0080ff","#00ffff","#80ff80","#ffff00","#ff8000","#ff0000","#800000"]},"legend":{"values":[-0.9999,0,0.9999],"format":".1~f"}}}},{"data":{"name":"c"},"transform":[{"lookup":"t","from":{"data":{"name":"tc"},"key":"t","fields":["x0","x1"]}},{"lookup":"h","from":{"data":{"name":"hc"},"key":"h","fields":["y0","y1"]}}],"mark":{"type":"rect","clip":true},"encoding":{"x":{"field":"x0","type":"quantitative","scale":{"domain":[0,2],"nice":false},"axis":null},"x2":{"field":"x1"},"y":{"field":"y0","type":"quantitative","scale":{"domain":[2,0],"nice":false},"axis":null},"y2":{"field":"y1"},"color":{"field":"v","type":"quantitative","scale":{"domain":[-1,1],"range":["#000084","#0000ff","#0080ff","#00ffff","#80ff80","#ffff00","#ff8000","#ff0000","#800000"]},"legend":null}}},{"data":{"name":"c"},"transform":[{"lookup":"t","from":{"data":{"name":"tc"},"key":"t","fields":["w0","w1"]}},{"lookup":"h","from":{"data":{"name":"hc"},"key":"h","fields":["z0","z1"]}}],"mark":{"type":"rect","clip":true,"opacity":0.5},"encoding":{"x":{"field":"w0","type":"quantitative","scale":{"domain":[0,2],"nice":false},"axis":null},"x2":{"field":"w1"},"y":{"field":"z0","type":"quantitative","scale":{"domain":[2,0],"nice":false},"axis":null},"y2":{"field":"z1"},"color":{"field":"v","type":"quantitative","scale":{"domain":[-1,1],"range":["#000084","#0000ff","#0080ff","#00ffff","#80ff80","#ffff00","#ff8000","#ff0000","#800000"]},"legend":null}}},{"data":{"name":"frame"},"mark":{"type":"point","opacity":0},"encoding":{"x":{"field":"t","type":"quantitative","scale":{"domain":[0,2],"nice":false},"axis":{"orient":"top","values":[0,1,2],"labels":false,"title":null,"zindex":1}},"y":{"field":"h","type":"quantitative","scale":{"domain":[2,0],"nice":false},"axis":{"orient":"right","values":[0,1,2],"labels":false,"title":null,"zindex":1}}}}]},
{"width":196,"height":141,"title":"(d) entropy","resolve":{"axis":{"x":"independent","y":"independent"}},"layer":[{"data":{"name":"d"},"transform":[{"lookup":"t","from":{"data":{"name":"tc"},"key":"t","fields":["x0","x1"]}},{"lookup":"h","from":{"data":{"name":"hc"},"key":"h","fields":["y0","y1"]}}],"mark":{"type":"rect","clip":true},"encoding":{"x":{"field":"x0","type":"quantitative","title":"time","scale":{"domain":[0,2],"nice":false},"axis":{"values":[0,1,2],"zindex":1}},"x2":{"field":"x1"},"y":{"field":"y0","type":"quantitative","title":"θ/π","scale":{"domain":[2,0],"nice":false},"axis":{"values":[0,1,2],"zindex":1}},"y2":{"field":"y1"},"color":{"field":"v","type":"quantitative","scale":{"domain":[0,3],"range":["#000084","#0000ff","#0080ff","#00ffff","#80ff80","#ffff00","#ff8000","#ff0000","#800000"]},"legend":{"values":[0.0001,1,2,2.9999],"format":".1~f"}}}},{"data":{"name":"d"},"transform":[{"lookup":"t","from":{"data":{"name":"tc"},"key":"t","fields":["x0","x1"]}},{"lookup":"h","from":{"data":{"name":"hc"},"key":"h","fields":["y0","y1"]}}],"mark":{"type":"rect","clip":true},"encoding":{"x":{"field":"x0","type":"quantitative","scale":{"domain":[0,2],"nice":false},"axis":null},"x2":{"field":"x1"},"y":{"field":"y0","type":"quantitative","scale":{"domain":[2,0],"nice":false},"axis":null},"y2":{"field":"y1"},"color":{"field":"v","type":"quantitative","scale":{"domain":[0,3],"range":["#000084","#0000ff","#0080ff","#00ffff","#80ff80","#ffff00","#ff8000","#ff0000","#800000"]},"legend":null}}},{"data":{"name":"d"},"transform":[{"lookup":"t","from":{"data":{"name":"tc"},"key":"t","fields":["w0","w1"]}},{"lookup":"h","from":{"data":{"name":"hc"},"key":"h","fields":["z0","z1"]}}],"mark":{"type":"rect","clip":true,"opacity":0.5},"encoding":{"x":{"field":"w0","type":"quantitative","scale":{"domain":[0,2],"nice":false},"axis":null},"x2":{"field":"w1"},"y":{"field":"z0","type":"quantitative","scale":{"domain":[2,0],"nice":false},"axis":null},"y2":{"field":"z1"},"color":{"field":"v","type":"quantitative","scale":{"domain":[0,3],"range":["#000084","#0000ff","#0080ff","#00ffff","#80ff80","#ffff00","#ff8000","#ff0000","#800000"]},"legend":null}}},{"data":{"name":"frame"},"mark":{"type":"point","opacity":0},"encoding":{"x":{"field":"t","type":"quantitative","scale":{"domain":[0,2],"nice":false},"axis":{"orient":"top","values":[0,1,2],"labels":false,"title":null,"zindex":1}},"y":{"field":"h","type":"quantitative","scale":{"domain":[2,0],"nice":false},"axis":{"orient":"right","values":[0,1,2],"labels":false,"title":null,"zindex":1}}}}]}
]}
